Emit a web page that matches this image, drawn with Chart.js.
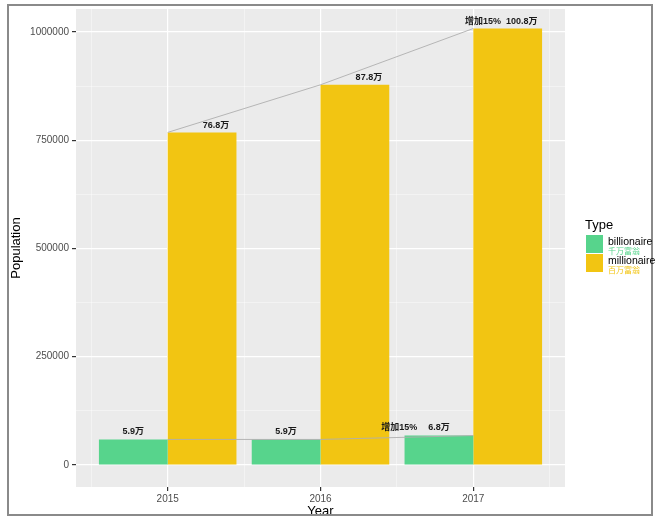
<!DOCTYPE html>
<html>
<head>
<meta charset="utf-8">
<script src="https://cdn.jsdelivr.net/npm/chart.js@4"></script>
<style>
  html, body { margin: 0; padding: 0; background: #fff; }
  #wrap { width: 660px; height: 525px; position: relative; }
</style>
</head>
<body>
<div id="wrap"><canvas id="populationChart" width="660" height="525"></canvas></div>
<script>
// data
const years = [2015, 2016, 2017];
const billionaire = [59000, 59000, 68000];
const millionaire = [768000, 878000, 1008000];
const billionaireLabels = ['5.9万', '5.9万', '6.8万'];
const millionaireLabels = ['76.8万', '87.8万', '100.8万'];
const growthLabel = '增加15%';
const typeNames = ['billionaire', 'millionaire'];
const typeNamesCn = ['千万富翁', '百万富翁'];
const xTicks = [2015, 2016, 2017];
const xMinorTicks = [2014.5, 2015.5, 2016.5, 2017.5];
const yTicks = [0, 250000, 500000, 750000, 1000000];
const yMinorTicks = [125000, 375000, 625000, 875000];

const green = '#57D48C';
const yellow = '#F2C512';
const cjkFont = '"Liberation Sans", "Noto Sans CJK SC", sans-serif';

function pts(vals) {
    return years.map((y, i) => ({ x: y, y: vals[i] }));
}

// panel background + frame
const panelBg = {
    id: 'panelBg',
    beforeDraw(chart) {
        const { ctx, chartArea: a } = chart;
        ctx.save();
        ctx.fillStyle = '#EBEBEB';
        ctx.fillRect(a.left, a.top, a.right - a.left, a.bottom - a.top);
        ctx.restore();
    },
    afterDraw(chart) {
        const ctx = chart.ctx;
        ctx.save();
        ctx.strokeStyle = '#8a8a8a';
        ctx.lineWidth = 2;
        ctx.strokeRect(8, 5, 644, 510);
        ctx.restore();
    }
};

// value labels above bars
const barLabels = {
    id: 'barLabels',
    afterDatasetsDraw(chart) {
        const { ctx, scales: { x, y } } = chart;
        const half = 0.225;
        ctx.save();
        ctx.font = 'bold 9px ' + cjkFont;
        ctx.fillStyle = '#1a1a1a';
        ctx.textBaseline = 'middle';
        years.forEach((yr, i) => {
            // billionaire
            const bx = x.getPixelForValue(yr - half);
            const by = y.getPixelForValue(billionaire[i]) - 8;
            ctx.textAlign = 'center';
            ctx.fillText(billionaireLabels[i], bx, by);
            // millionaire
            const mx = x.getPixelForValue(yr + half) + 14;
            const my = y.getPixelForValue(millionaire[i]) - 7;
            ctx.fillText(millionaireLabels[i], mx, my);
            if (i === years.length - 1) {
                ctx.textAlign = 'right';
                const mw = ctx.measureText(millionaireLabels[i]).width;
                ctx.fillText(growthLabel, mx - mw / 2 - 5, my);
                const bw = ctx.measureText(billionaireLabels[i]).width;
                ctx.fillText(growthLabel, bx - bw / 2 - 11, by);
            }
        });
        ctx.restore();
    }
};

// legend on the right
const typeLegend = {
    id: 'typeLegend',
    afterDraw(chart) {
        const ctx = chart.ctx;
        const left = chart.chartArea.right + 21;
        ctx.save();
        ctx.textBaseline = 'middle';
        ctx.textAlign = 'left';
        ctx.fillStyle = '#000';
        ctx.font = '13px ' + cjkFont;
        ctx.fillText('Type', left - 1, 225);
        const colors = [green, yellow];
        colors.forEach((c, i) => {
            const top = 235 + i * 19;
            ctx.fillStyle = c;
            ctx.fillRect(left, top, 17, 18);
            ctx.fillStyle = '#000';
            ctx.font = '10.5px ' + cjkFont;
            ctx.fillText(typeNames[i], left + 22, top + 7);
            ctx.fillStyle = c;
            ctx.font = '8px ' + cjkFont;
            ctx.fillText(typeNamesCn[i], left + 22, top + 17);
        });
        ctx.restore();
    }
};

const isIn = (arr, v) => arr.some(t => Math.abs(t - v) < 1e-6);
const major = (arr, c) => !!(c && c.tick) && isIn(arr, c.tick.value);

new Chart(document.getElementById('populationChart'), {
    data: {
        datasets: [
            {
                type: 'line',
                data: pts(millionaire),
                borderColor: 'rgba(175,175,175,0.9)',
                borderWidth: 1,
                pointRadius: 0,
                order: 0
            },
            {
                type: 'line',
                data: pts(billionaire),
                borderColor: 'rgba(175,175,175,0.9)',
                borderWidth: 1,
                pointRadius: 0,
                order: 0
            },
            {
                type: 'bar',
                label: typeNames[0],
                data: pts(billionaire),
                backgroundColor: green,
                // the ruler uses the 0.5-year tick spacing, so 1.8 = 0.9 of a year
                categoryPercentage: 1.8,
                barPercentage: 1.0,
                order: 1
            },
            {
                type: 'bar',
                label: typeNames[1],
                data: pts(millionaire),
                backgroundColor: yellow,
                categoryPercentage: 1.8,
                barPercentage: 1.0,
                order: 1
            }
        ]
    },
    options: {
        responsive: false,
        animation: false,
        layout: { padding: { top: 9, right: 95, bottom: 0, left: 0 } },
        plugins: {
            legend: { display: false },
            tooltip: { enabled: false }
        },
        scales: {
            x: {
                type: 'linear',
                offset: false,
                min: 2014.4,
                max: 2017.6,
                afterFit: s => { s.height = 38; },
                afterBuildTicks: s => {
                    s.ticks = xMinorTicks.concat(xTicks).sort().map(v => ({ value: v }));
                },
                ticks: {
                    autoSkip: false,
                    maxRotation: 0,
                    padding: 2,
                    color: '#4D4D4D',
                    font: { size: 10, family: cjkFont },
                    callback: v => isIn(xTicks, v) ? String(v) : ''
                },
                grid: {
                    offset: false,
                    color: c => major(xTicks, c) ? '#ffffff' : 'rgba(255,255,255,0.7)',
                    lineWidth: c => major(xTicks, c) ? 1.2 : 0.6,
                    tickColor: c => major(xTicks, c) ? '#333' : 'rgba(0,0,0,0)',
                    tickLength: 4
                },
                border: { display: false },
                title: {
                    display: true,
                    text: 'Year',
                    color: '#000',
                    font: { size: 13, family: cjkFont },
                    padding: { top: 0, bottom: 6 }
                }
            },
            y: {
                type: 'linear',
                min: -50800,
                max: 1053000,
                afterFit: s => { s.width = 76; },
                afterBuildTicks: s => {
                    s.ticks = yMinorTicks.concat(yTicks).sort((a, b) => a - b).map(v => ({ value: v }));
                },
                ticks: {
                    padding: 3,
                    color: '#4D4D4D',
                    font: { size: 10, family: cjkFont },
                    callback: v => isIn(yTicks, v) ? String(v) : ''
                },
                grid: {
                    color: c => major(yTicks, c) ? '#ffffff' : 'rgba(255,255,255,0.7)',
                    lineWidth: c => major(yTicks, c) ? 1.2 : 0.6,
                    tickColor: c => major(yTicks, c) ? '#333' : 'rgba(0,0,0,0)',
                    tickLength: 4
                },
                border: { display: false },
                title: {
                    display: true,
                    text: 'Population',
                    color: '#000',
                    font: { size: 13, family: cjkFont },
                    padding: { top: 9, bottom: 0 }
                }
            }
        }
    },
    plugins: [panelBg, barLabels, typeLegend]
});
</script>
</body>
</html>
